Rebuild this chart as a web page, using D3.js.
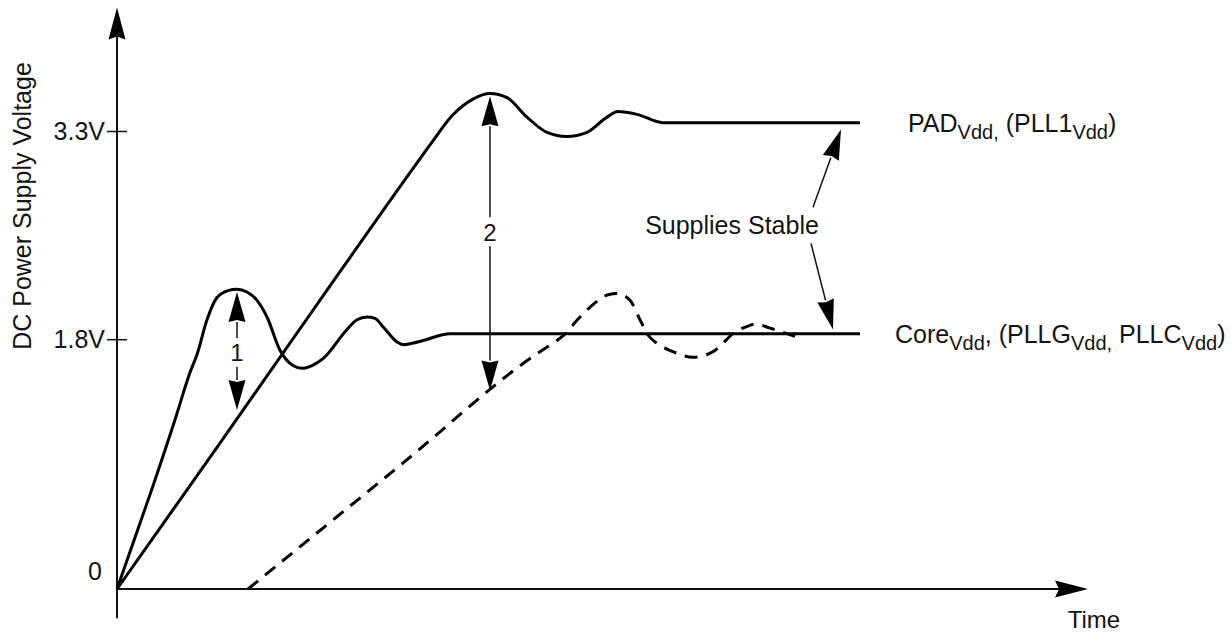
<!DOCTYPE html>
<html><head><meta charset="utf-8">
<script src="https://cdn.jsdelivr.net/npm/d3@7"></script>
<style>
html,body{margin:0;padding:0;background:#fff;}
svg{display:block;}
text{font-family:"Liberation Sans",Arial,Helvetica,sans-serif;fill:#141414;}
</style>
</head><body>
<svg id="chart" width="1231" height="633"></svg>
<script>
// ---- data (time in arbitrary units, voltage in V) ----
const yTicks = [1.8, 3.3];
const yTickLabels = ["1.8V", "3.3V"];
const originLabel = "0";
const yTitle = "DC Power Supply Voltage";
const xTitle = "Time";

const padSeries = [[0,0],[10,1.02],[20,2.05],[30,3.07],[31.5,3.22],[33.5,3.41],[35.6,3.53],[37.3,3.57],
  [39.0,3.54],[41.0,3.40],[43.0,3.29],[45.0,3.26],[47.0,3.29],[49.0,3.40],[50.1,3.44],[52.0,3.42],
  [54.6,3.36],[74.3,3.36]];
const coreSeries = [[0,0],[3.3,0.68],[5.8,1.22],[7.3,1.56],[8.0,1.69],[9.0,1.94],[10.0,2.10],[11.1,2.15],
  [12.0,2.16],[13.0,2.14],[14.0,2.08],[15.0,1.96],[16.3,1.72],[17.6,1.61],[18.5,1.59],[19.5,1.61],
  [20.6,1.66],[23.0,1.87],[24.0,1.94],[25.0,1.96],[25.8,1.95],[26.6,1.89],[28.0,1.78],[28.6,1.76],
  [29.5,1.77],[30.6,1.79],[33.3,1.84],[74.3,1.84]];
const pllSeries = [[13.1,0],[28.3,0.89],[42.3,1.71],[43.8,1.78],[45.0,1.85],[45.8,1.92],[47.3,2.03],
  [49.1,2.12],[50.0,2.13],[51.3,2.08],[52.3,1.94],[53.1,1.83],[54.0,1.77],[55.6,1.71],[57.6,1.67],
  [59.6,1.71],[60.3,1.75],[61.6,1.84],[63.3,1.90],[63.8,1.91],[65.3,1.88],[66.6,1.85],[67.8,1.82]];

const seriesLabels = [
  {t: 79.1, v: 3.36, parts: [["PAD",0],["Vdd,",1],[" (PLL1",0],["Vdd",1],[")",0]]},
  {t: 77.8, v: 1.84, parts: [["Core",0],["Vdd",1],[", (PLLG",0],["Vdd,",1],[" PLLC",0],["Vdd",1],[")",0]]}
];

// annotations
const spanArrows = [
  {t: 12.0, v0: 2.14, v1: 1.29, label: "1", vl: 1.70},
  {t: 37.3, v0: 3.55, v1: 1.43, label: "2", vl: 2.57}
];
const stableLabel = {t: 61.5, v: 2.62, text: "Supplies Stable"};
const stableArrows = [
  {t0: 69.6, v0: 2.75, t1: 72.4, v1: 3.31},
  {t0: 69.4, v0: 2.49, t1: 71.6, v1: 1.87}
];
const xAxisEnd = 97.1;
const yAxisTop = 4.19, yAxisBottom = -0.21;

// ---- scales ----
const svg = d3.select("#chart");
const x = d3.scaleLinear().domain([0, 97.1]).range([117, 1088]);
const y = d3.scaleLinear().domain([0, 3.3]).range([589, 131]);

function head(g, tx, ty, fx, fy, len, wid, notch) {
  const dx = tx - fx, dy = ty - fy, d = Math.hypot(dx, dy);
  const ux = dx / d, uy = dy / d, nx = -uy, ny = ux;
  const bx = tx - ux * len, by = ty - uy * len;
  const pts = [[tx, ty], [bx + nx * wid / 2, by + ny * wid / 2],
    [tx - ux * (len - notch), ty - uy * (len - notch)], [bx - nx * wid / 2, by - ny * wid / 2]];
  g.append("path").attr("d", "M" + pts.map(p => p.join(",")).join("L") + "Z").attr("fill", "#000");
  return [bx, by];
}

// ---- axes ----
const axG = svg.append("g");
axG.append("line").attr("x1", x(0)).attr("x2", x(0)).attr("y1", y(yAxisBottom)).attr("y2", y(yAxisTop) + 28)
  .attr("stroke", "#111").attr("stroke-width", 2);
head(axG, x(0), y(yAxisTop), x(0), y(0), 32, 17, 3);
axG.append("line").attr("x1", x(0)).attr("x2", x(xAxisEnd) - 28).attr("y1", y(0)).attr("y2", y(0))
  .attr("stroke", "#111").attr("stroke-width", 2);
head(axG, x(xAxisEnd), y(0), x(0), y(0), 33, 17, 4);

const yAxis = d3.axisLeft(y).tickValues(yTicks).tickFormat((d, i) => yTickLabels[i]).tickSize(11).tickPadding(1);
const yg = svg.append("g").attr("transform", `translate(${x(0)},0)`).call(yAxis);
yg.select(".domain").remove();
yg.selectAll(".tick line").attr("x2", 10).attr("x1", -10).attr("stroke", "#111").attr("stroke-width", 1.5);
yg.selectAll(".tick text").attr("font-size", 25).attr("font-family", null).attr("fill", "#141414").attr("dy", "0.32em");

svg.append("text").attr("x", x(0) - 15).attr("y", y(0) - 9).attr("text-anchor", "end").attr("font-size", 25).text(originLabel);
svg.append("text").attr("transform", `translate(31,206)rotate(-90)`)
  .attr("text-anchor", "middle").attr("font-size", 25).text(yTitle);
svg.append("text").attr("x", x(xAxisEnd) + 6).attr("y", 628).attr("text-anchor", "middle").attr("font-size", 24).text(xTitle);

// ---- curves ----
const line = d3.line().x(d => x(d[0])).y(d => y(d[1])).curve(d3.curveMonotoneX);
svg.append("path").attr("d", line(padSeries)).attr("fill", "none").attr("stroke", "#000").attr("stroke-width", 3);
svg.append("path").attr("d", line(coreSeries)).attr("fill", "none").attr("stroke", "#000").attr("stroke-width", 3);
svg.append("path").attr("d", line(pllSeries)).attr("fill", "none").attr("stroke", "#000").attr("stroke-width", 3)
  .attr("stroke-dasharray", "13,9");

// ---- series labels ----
seriesLabels.forEach(l => {
  const t = svg.append("text").attr("x", x(l.t)).attr("y", y(l.v) + 9).attr("font-size", 25);
  let sub = 0;
  l.parts.forEach(([s, isSub]) => {
    const dy = isSub === sub ? 0 : (isSub ? 7 : -7);
    sub = isSub;
    t.append("tspan").attr("dy", dy).attr("font-size", isSub ? 20 : 25).text(s);
  });
});

// ---- annotations ----
const an = svg.append("g");
spanArrows.forEach(a => {
  const px = x(a.t), yTop = y(a.v0), yBot = y(a.v1), yl = y(a.vl);
  const [, b1] = head(an, px, yTop, px, yBot, 30, 17, 2);
  const [, b2] = head(an, px, yBot, px, yTop, 30, 17, 2);
  an.append("line").attr("x1", px).attr("x2", px).attr("y1", b1).attr("y2", yl - 15).attr("stroke", "#111").attr("stroke-width", 1.5);
  an.append("line").attr("x1", px).attr("x2", px).attr("y1", yl + 14).attr("y2", b2).attr("stroke", "#111").attr("stroke-width", 1.5);
  an.append("text").attr("x", px).attr("y", yl).attr("dy", "0.35em").attr("text-anchor", "middle").attr("font-size", 24).text(a.label);
});
an.append("text").attr("x", x(stableLabel.t)).attr("y", y(stableLabel.v)).attr("dy", "0.35em")
  .attr("text-anchor", "middle").attr("font-size", 25).text(stableLabel.text);
stableArrows.forEach(a => {
  const [bx, by] = head(an, x(a.t1), y(a.v1), x(a.t0), y(a.v0), 30, 17, 2);
  an.append("line").attr("x1", x(a.t0)).attr("y1", y(a.v0)).attr("x2", bx).attr("y2", by).attr("stroke", "#111").attr("stroke-width", 1.5);
});
</script>
</body></html>
